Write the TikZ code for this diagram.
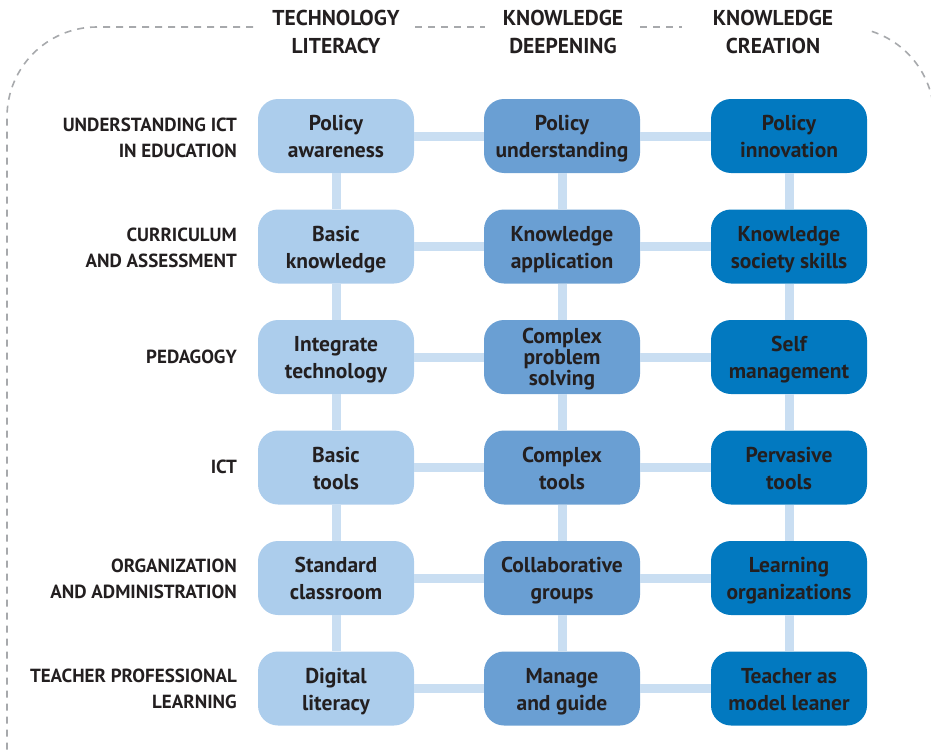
\documentclass[tikz,border=0pt]{standalone}
\usepackage{fontspec}
\setmainfont{PT Sans}
\definecolor{colA}{HTML}{ACCDEC}
\definecolor{colB}{HTML}{6A9FD3}
\definecolor{colC}{HTML}{0279C0}
\definecolor{linkc}{HTML}{C9DEF2}
\definecolor{txt}{HTML}{231F20}
\definecolor{borderc}{HTML}{A7A9AC}
\newcommand\celltxt[1]{\vbox{\kern6pt\hbox{\begin{tabular}{@{}c@{}}#1\end{tabular}}}}
\tikzset{
  cell/.style={rounded corners=20pt, minimum width=156pt, minimum height=74pt, inner sep=0pt,
    font=\bfseries\fontsize{21.5}{27}\selectfont, text=txt},
  cellA/.style={cell, fill=colA},
  cellB/.style={cell, fill=colB},
  cellC/.style={cell, fill=colC},
  link/.style={line width=9pt, draw=linkc},
  rowlab/.style={anchor=east, align=right, inner sep=0pt, font=\bfseries\fontsize{19}{26.5}\selectfont, text=txt},
  collab/.style={align=center, inner sep=0pt, font=\bfseries\fontsize{21.5}{28}\selectfont, text=txt},
  frame/.style={draw=borderc, line width=1.6pt, dash pattern=on 7pt off 6pt}
}
\begin{document}
\begin{tikzpicture}[x=1pt,y=-1pt]
\useasboundingbox (0,0) rectangle (931,752);
\begin{scope}
\clip (0,0) rectangle (931,752);
\draw[frame] (253,27) -- (97,27) arc[start angle=270, end angle=180, radius=90] -- (7,780);
\draw[frame] (415,27) -- (485,27);
\draw[frame] (640,27) -- (682,27);
\draw[frame] (871.8,31.4) arc[start angle=288, end angle=360, radius=90] -- (934,780);
\end{scope}

\node[collab] (h1) at (336,32) {TECHNOLOGY\\LITERACY};
\node[collab] (h2) at (563,32) {KNOWLEDGE\\DEEPENING};
\node[collab] (h3) at (773,32) {KNOWLEDGE\\CREATION};

\node[rowlab] (l1) at (237,138) {UNDERSTANDING ICT\\IN EDUCATION};
\node[rowlab] (l2) at (237,248) {CURRICULUM\\AND ASSESSMENT};
\node[rowlab] (l3) at (237,357) {PEDAGOGY};
\node[rowlab] (l4) at (237,467) {ICT};
\node[rowlab] (l5) at (237,579) {ORGANIZATION\\AND ADMINISTRATION};
\node[rowlab] (l6) at (237,689) {TEACHER PROFESSIONAL\\LEARNING};

\node[cellA] (a1) at (336,136) {\celltxt{Policy\\awareness}};
\node[cellB] (b1) at (562,136) {\celltxt{Policy\\understanding}};
\node[cellC] (c1) at (789,136) {\celltxt{Policy\\innovation}};
\node[cellA] (a2) at (336,246.5) {\celltxt{Basic\\knowledge}};
\node[cellB] (b2) at (562,246.5) {\celltxt{Knowledge\\application}};
\node[cellC] (c2) at (789,246.5) {\celltxt{Knowledge\\society skills}};
\node[cellA] (a3) at (336,357) {\celltxt{Integrate\\technology}};
\node[cellB,font=\bfseries\fontsize{21.5}{21}\selectfont] (b3) at (562,357) {\celltxt{Complex\\problem\\solving}};
\node[cellC] (c3) at (789,357) {\celltxt{Self\\management}};
\node[cellA] (a4) at (336,467.5) {\celltxt{Basic\\tools}};
\node[cellB] (b4) at (562,467.5) {\celltxt{Complex\\tools}};
\node[cellC] (c4) at (789,467.5) {\celltxt{Pervasive\\tools}};
\node[cellA] (a5) at (336,578) {\celltxt{Standard\\classroom}};
\node[cellB] (b5) at (562,578) {\celltxt{Collaborative\\groups}};
\node[cellC] (c5) at (789,578) {\celltxt{Learning\\organizations}};
\node[cellA] (a6) at (336,688.5) {\celltxt{Digital\\literacy}};
\node[cellB] (b6) at (562,688.5) {\celltxt{Manage\\and guide}};
\node[cellC] (c6) at (789,688.5) {\celltxt{Teacher as\\model leaner}};

\foreach \r in {1,...,6}{
  \draw[link] (a\r.east) -- (b\r.west);
  \draw[link] (b\r.east) -- (c\r.west);
}
\foreach \r/\s in {1/2,2/3,3/4,4/5,5/6}{
  \draw[link] (a\r.south) -- (a\s.north);
  \draw[link] (b\r.south) -- (b\s.north);
  \draw[link] (c\r.south) -- (c\s.north);
}
\end{tikzpicture}
\end{document}
